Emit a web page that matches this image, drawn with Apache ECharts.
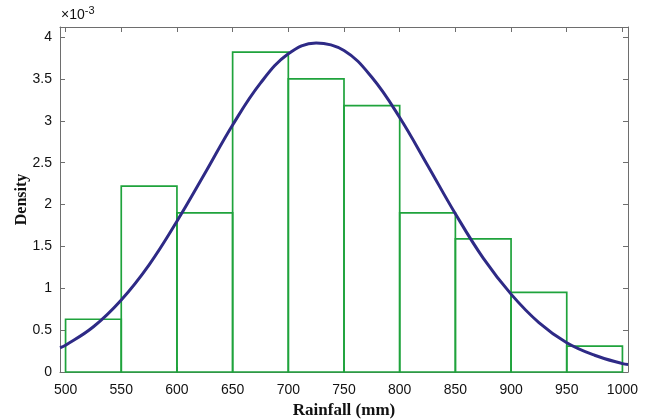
<!DOCTYPE html>
<html><head><meta charset="utf-8">
<script src="https://cdn.jsdelivr.net/npm/echarts@6/dist/echarts.min.js"></script>
<style>html,body{margin:0;padding:0;background:#fff}#c{width:647px;height:419px}</style>
</head><body><div id="c"></div>
<script>
// Histogram bins (rainfall, mm) and densities (x 1e-3)
const binStarts = [500, 550, 600, 650, 700, 750, 800, 850, 900, 950];
const binEnds   = [550, 600, 650, 700, 750, 800, 850, 900, 950, 1000];
const binDensity = [0.63, 2.22, 1.90, 3.82, 3.50, 3.18, 1.90, 1.59, 0.95, 0.31];
// Fitted curve points (x, density x1e-3)
const curveX = [495, 500, 525, 550, 575, 600, 625, 650, 675, 700, 725, 750, 775, 800, 825, 850, 875, 900, 925, 950, 975, 1000, 1005];
const curveY = [0.29, 0.32, 0.54, 0.86, 1.28, 1.80, 2.37, 2.95, 3.45, 3.80, 3.93, 3.84, 3.52, 3.04, 2.47, 1.89, 1.36, 0.93, 0.59, 0.35, 0.20, 0.10, 0.09];
const xTicks = [500, 550, 600, 650, 700, 750, 800, 850, 900, 950, 1000];
const yTicks = [0, 0.5, 1, 1.5, 2, 2.5, 3, 3.5, 4];

const histData = binStarts.map((s, i) => [s, binEnds[i], binDensity[i]]);
const curveData = curveX.map((x, i) => [x, curveY[i]]);

const axisColor = '#6e6e6e';
const labelFont = {fontFamily: 'Liberation Sans', fontSize: 14, color: '#111'};
const chart = echarts.init(document.getElementById('c'), null, {renderer: 'canvas'});
const xCommon = {type: 'value', min: 495, max: 1005, splitLine: {show: false},
  axisLine: {show: true, onZero: false, lineStyle: {color: axisColor, width: 1}},
  axisTick: {show: true, inside: true, length: 5, customValues: xTicks, lineStyle: {color: axisColor}}};
const yCommon = {type: 'value', min: 0, max: 4.12, splitLine: {show: false},
  axisLine: {show: true, onZero: false, lineStyle: {color: axisColor, width: 1}},
  axisTick: {show: true, inside: true, length: 5, customValues: yTicks, lineStyle: {color: axisColor}}};

chart.setOption({
  animation: false,
  backgroundColor: '#fff',
  grid: {left: 60, right: 19, top: 27, bottom: 47, containLabel: false, outerBoundsMode: 'none'},
  xAxis: [
    Object.assign({}, xCommon, {position: 'bottom',
      name: 'Rainfall (mm)', nameLocation: 'middle', nameGap: 29,
      nameTextStyle: {fontFamily: 'Liberation Serif', fontWeight: 'bold', fontSize: 17, color: '#111'},
      axisLabel: Object.assign({show: true, margin: 11, customValues: xTicks,
        formatter: function (v) { return String(v); }}, labelFont)}),
    Object.assign({}, xCommon, {position: 'top', axisLabel: {show: false}})
  ],
  yAxis: [
    Object.assign({}, yCommon, {position: 'left',
      name: 'Density', nameLocation: 'middle', nameGap: 30, nameMoveOverlap: false,
      nameTextStyle: {fontFamily: 'Liberation Serif', fontWeight: 'bold', fontSize: 16, color: '#111'},
      axisLabel: Object.assign({show: true, margin: 8, customValues: yTicks}, labelFont)}),
    Object.assign({}, yCommon, {position: 'right', axisLabel: {show: false}})
  ],
  graphic: [{
    type: 'text', left: 61, top: 5,
    style: {text: '×10{s|-3}', font: '14px "Liberation Sans"', fill: '#111',
      rich: {s: {fontSize: 11, fontFamily: 'Liberation Sans', verticalAlign: 'top', padding: [0,0,9,0]}}}
  }],
  series: [
    {type: 'custom', xAxisIndex: 0, yAxisIndex: 0, data: histData, z: 2,
      renderItem: function (params, api) {
        const p0 = api.coord([api.value(0), 0]);
        const p1 = api.coord([api.value(1), api.value(2)]);
        return {type: 'rect', shape: {x: p0[0], y: p1[1], width: p1[0] - p0[0], height: p0[1] - p1[1]},
          style: {fill: 'none', stroke: '#1fa33c', lineWidth: 1.7}};
      }},
    {type: 'line', xAxisIndex: 0, yAxisIndex: 0, data: curveData, smooth: 0.4, showSymbol: false, z: 3,
      lineStyle: {color: '#2e2a86', width: 3}}
  ]
});
</script></body></html>
